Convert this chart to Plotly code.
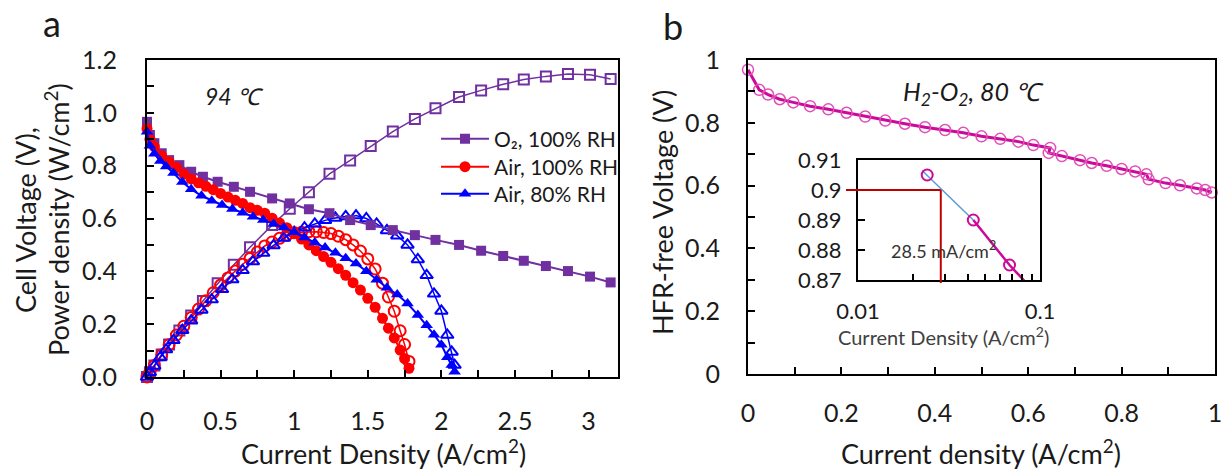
import math
import plotly.graph_objects as go

# ---------------- Panel a data (94 C) ----------------
o2_j = [0, 0.02, 0.05, 0.10, 0.15, 0.22, 0.30, 0.38, 0.48, 0.59, 0.70, 0.85, 0.97, 1.10,
        1.24, 1.38, 1.52, 1.67, 1.82, 1.96, 2.12, 2.27, 2.42, 2.56, 2.71, 2.86, 3.01, 3.15]
o2_v = [0.966, 0.916, 0.885, 0.847, 0.821, 0.802, 0.777, 0.758, 0.739, 0.720, 0.701, 0.676,
        0.657, 0.635, 0.620, 0.594, 0.575, 0.556, 0.537, 0.519, 0.500, 0.478, 0.458, 0.440,
        0.420, 0.401, 0.380, 0.358]
o2_p = [0.0, 0.018, 0.044, 0.085, 0.123, 0.176, 0.233, 0.288, 0.355, 0.425, 0.491, 0.575,
        0.637, 0.699, 0.769, 0.820, 0.874, 0.929, 0.977, 1.017, 1.060, 1.085, 1.108, 1.126,
        1.138, 1.147, 1.144, 1.128]

air100_j = [0, 0.02, 0.05, 0.10, 0.15, 0.20, 0.25, 0.30, 0.35, 0.40, 0.45, 0.50, 0.55, 0.60,
            0.65, 0.70, 0.75, 0.80, 0.85, 0.90, 0.95, 1.00, 1.05, 1.10, 1.15, 1.20, 1.25, 1.30,
            1.35, 1.40, 1.45, 1.50, 1.55, 1.60, 1.64, 1.68, 1.72, 1.75, 1.78]
air100_v = [0.940, 0.900, 0.872, 0.838, 0.815, 0.793, 0.768, 0.750, 0.735, 0.722, 0.709, 0.695,
            0.681, 0.669, 0.657, 0.641, 0.631, 0.620, 0.601, 0.583, 0.565, 0.546, 0.522, 0.500,
            0.478, 0.456, 0.434, 0.410, 0.385, 0.357, 0.329, 0.298, 0.264, 0.222, 0.185, 0.148,
            0.102, 0.070, 0.033]
air100_p = [0.0, 0.018, 0.044, 0.084, 0.122, 0.159, 0.192, 0.225, 0.257, 0.289, 0.319, 0.348,
            0.375, 0.401, 0.427, 0.449, 0.473, 0.496, 0.511, 0.525, 0.537, 0.546, 0.548, 0.550,
            0.550, 0.547, 0.543, 0.533, 0.520, 0.500, 0.477, 0.447, 0.409, 0.355, 0.303, 0.249,
            0.175, 0.123, 0.059]

air80_j = [0, 0.02, 0.05, 0.09, 0.13, 0.18, 0.24, 0.30, 0.37, 0.44, 0.51, 0.58, 0.65, 0.72,
           0.79, 0.86, 0.93, 1.00, 1.07, 1.14, 1.21, 1.28, 1.35, 1.42, 1.49, 1.56, 1.63, 1.70,
           1.77, 1.84, 1.90, 1.95, 2.00, 2.04, 2.07, 2.09]
air80_v = [0.928, 0.875, 0.845, 0.818, 0.797, 0.772, 0.738, 0.711, 0.686, 0.667, 0.651, 0.636,
           0.622, 0.607, 0.594, 0.579, 0.566, 0.548, 0.528, 0.509, 0.490, 0.470, 0.450, 0.430,
           0.400, 0.368, 0.338, 0.312, 0.278, 0.235, 0.196, 0.160, 0.122, 0.075, 0.045, 0.020]
air80_p = [0.0, 0.018, 0.042, 0.074, 0.104, 0.139, 0.177, 0.213, 0.254, 0.293, 0.332, 0.369,
           0.404, 0.437, 0.469, 0.498, 0.526, 0.548, 0.565, 0.580, 0.593, 0.602, 0.608, 0.611,
           0.600, 0.580, 0.555, 0.535, 0.500, 0.445, 0.385, 0.315, 0.250, 0.159, 0.095, 0.045]

series_names = ["O\u2082, 100% RH", "Air, 100% RH", "Air, 80% RH"]

# ---------------- Panel b data (H2-O2, 80 C) ----------------
hfr_j = [0, 0.024, 0.043, 0.068, 0.097, 0.133, 0.172, 0.211, 0.251, 0.294, 0.336, 0.379, 0.422,
         0.461, 0.500, 0.540, 0.579, 0.611, 0.647, 0.644, 0.672, 0.711, 0.736, 0.768, 0.800,
         0.829, 0.853, 0.858, 0.894, 0.925, 0.961, 0.979, 0.993]
hfr_v = [0.969, 0.905, 0.890, 0.875, 0.865, 0.853, 0.843, 0.832, 0.820, 0.807, 0.797, 0.786,
         0.777, 0.768, 0.757, 0.749, 0.740, 0.729, 0.720, 0.704, 0.694, 0.681, 0.672, 0.663,
         0.653, 0.645, 0.636, 0.620, 0.608, 0.601, 0.591, 0.586, 0.578]

# inset: Tafel-type fit line and onset marker
fit_j = [0.0225, 0.043]
fit_v = [0.9065, 0.890]
onset_j = 0.0285
onset_v = 0.9

PURPLE = "#7030A0"
RED = "#FF0000"
BLUE = "#0000FF"
MAG_LINE = "#CC0A99"
MAG_MARK = "#E050B8"
FONT = "Lato, 'Open Sans', sans-serif"
TXT = "#1a1a1a"

W, H = 1223, 470

fig = go.Figure()

specs = [
    (o2_j, o2_v, o2_p, PURPLE, "square", "square-open", 10),
    (air100_j, air100_v, air100_p, RED, "circle", "circle-open", 11),
    (air80_j, air80_v, air80_p, BLUE, "triangle-up", "triangle-up-open", 11),
]
legend_ids = ["legend", "legend2", "legend3"]
legend_rows = [139, 167, 194]

# power (open markers)
for (j, v, p, c, sf, so, ms) in specs:
    fig.add_trace(go.Scatter(x=j, y=p, mode="lines+markers", showlegend=False,
                             line=dict(color=c, width=1.5),
                             marker=dict(symbol=so, size=ms, color=c, line=dict(color=c, width=2)),
                             xaxis="x", yaxis="y", cliponaxis=False))
# voltage (filled markers)
for (j, v, p, c, sf, so, ms), nm, lg in zip(specs, series_names, legend_ids):
    fig.add_trace(go.Scatter(x=j, y=v, mode="lines+markers", name=nm, legend=lg,
                             line=dict(color=c, width=2),
                             marker=dict(symbol=sf, size=ms, color=c),
                             xaxis="x", yaxis="y", cliponaxis=False))

# panel b main curve
fig.add_trace(go.Scatter(x=hfr_j, y=hfr_v, mode="lines+markers", showlegend=False,
                         line=dict(color=MAG_LINE, width=3),
                         marker=dict(symbol="circle-open", size=11, color=MAG_MARK,
                                     line=dict(color=MAG_MARK, width=1.5)),
                         xaxis="x2", yaxis="y2", cliponaxis=False))

# inset
fig.add_trace(go.Scatter(x=hfr_j[2:], y=hfr_v[2:], mode="lines", showlegend=False,
                         line=dict(color=MAG_LINE, width=2.5), xaxis="x3", yaxis="y3"))
fig.add_trace(go.Scatter(x=fit_j, y=fit_v, mode="lines", showlegend=False,
                         line=dict(color="#5B9BD5", width=1.5), xaxis="x3", yaxis="y3"))
fig.add_trace(go.Scatter(x=hfr_j[1:4], y=hfr_v[1:4], mode="markers", showlegend=False,
                         marker=dict(symbol="circle-open", size=11, color=MAG_LINE,
                                     line=dict(color=MAG_LINE, width=2)),
                         xaxis="x3", yaxis="y3", cliponaxis=False))


def dx(a, b):
    return [a / W, b / W]


def dy(top, bottom):
    return [(H - bottom) / H, (H - top) / H]


def axis_common(size=25):
    return dict(showline=True, mirror=True, linecolor="black", linewidth=2,
                ticks="inside", ticklen=7, tickwidth=2, tickcolor="black",
                showgrid=False, zeroline=False, automargin=False,
                tickfont=dict(family=FONT, size=size, color=TXT))


MINOR = dict(ticks="inside", ticklen=7, tickwidth=2, tickcolor="black")

fig.update_layout(
    xaxis=dict(domain=dx(147, 618), range=[0, 3.2], anchor="y", tickvals=[0, 0.5, 1, 1.5, 2, 2.5, 3],
               ticktext=["0", "0.5", "1", "1.5", "2", "2.5", "3"],
               minor=dict(tickvals=[0.25, 0.75, 1.25, 1.75, 2.25, 2.75], **MINOR),
               ticklabelstandoff=21, **axis_common()),
    yaxis=dict(domain=dy(60, 377), range=[0, 1.2], anchor="x", dtick=0.2, tickformat=".1f",
               minor=dict(dtick=0.1, **MINOR),
               ticklabelstandoff=23, **axis_common()),
    xaxis2=dict(domain=dx(748, 1215), range=[0, 1], anchor="y2", dtick=0.2,
                minor=dict(dtick=0.1, **MINOR),
                ticklabelstandoff=16, **axis_common()),
    yaxis2=dict(domain=dy(60, 374), range=[0, 1], anchor="x2", dtick=0.2,
                minor=dict(dtick=0.1, **MINOR),
                ticklabelstandoff=21, **axis_common()),
    xaxis3=dict(domain=dx(858, 1040), type="log", range=[-2, -1], anchor="y3",
                tickvals=[0.01, 0.1], ticktext=["0.01", "0.1"],
                minor=dict(tickvals=[0.02, 0.03, 0.04, 0.05, 0.06, 0.07, 0.08, 0.09],
                           ticks="inside", ticklen=6, tickwidth=2, tickcolor="black"),
                ticklabelstandoff=11, **axis_common(22)),
    yaxis3=dict(domain=dy(160, 280), range=[0.87, 0.91], anchor="x3",
                tickvals=[0.87, 0.88, 0.89, 0.9, 0.91], ticktext=["0.87", "0.88", "0.89", "0.9", "0.91"],
                ticklabelstandoff=10, **axis_common(22)),
)

leg_common = dict(xanchor="left", yanchor="middle", bgcolor="rgba(0,0,0,0)",
                  font=dict(family=FONT, size=21, color=TXT), itemwidth=48)
legends = {}
for lg, row in zip(legend_ids, legend_rows):
    legends[lg] = dict(x=436 / W, y=(H - row) / H, **leg_common)

fig.update_layout(
    width=W, height=H, margin=dict(l=0, r=0, t=0, b=0),
    paper_bgcolor="white", plot_bgcolor="rgba(0,0,0,0)",
    font=dict(family=FONT, color=TXT),
    **legends,
)

# red onset lines in the inset
xf = math.log10(onset_j) - (-2)
yf = (onset_v - 0.87) / 0.04
fig.add_shape(type="line", xref="x3 domain", yref="y3 domain", x0=-12 / 182, x1=xf, y0=yf, y1=yf,
              line=dict(color="#C00000", width=2))
fig.add_shape(type="line", xref="x3 domain", yref="y3 domain", x0=xf, x1=xf, y0=yf, y1=-3 / 120,
              line=dict(color="#C00000", width=2))

ann = [
    dict(text="a", x=52 / W, y=(H - 23) / H, font=dict(size=36)),
    dict(text="b", x=673 / W, y=(H - 26) / H, font=dict(size=36)),
    dict(text="<i>94 \u2103</i>", x=234 / W, y=(H - 96) / H, font=dict(size=23)),
    dict(text="<i>H<sub>2</sub>-O<sub>2</sub>, 80 \u2103</i>", x=973 / W, y=(H - 93) / H, font=dict(size=25)),
    dict(text="Current Density (A/cm<sup>2</sup>)", x=383 / W, y=(H - 452) / H, font=dict(size=27)),
    dict(text="Current density (A/cm<sup>2</sup>)", x=981 / W, y=(H - 452) / H, font=dict(size=27)),
    dict(text="Cell Voltage (V),", x=25 / W, y=(H - 220) / H, textangle=-90, font=dict(size=27)),
    dict(text="Power density (W/cm<sup>2</sup>)", x=57 / W, y=(H - 220) / H, textangle=-90,
         font=dict(size=27)),
    dict(text="HFR-free Voltage (V)", x=662 / W, y=(H - 213) / H, textangle=-90, font=dict(size=27)),
    dict(text="Current Density (A/cm<sup>2</sup>)", x=943 / W, y=(H - 336) / H,
         font=dict(size=20, color="#404040")),
    dict(text="28.5 mA/cm<sup>2</sup>", x=943 / W, y=(H - 250) / H, font=dict(size=18, color="#333333")),
]
for a in ann:
    f = dict(family=FONT, color=TXT)
    f.update(a.pop("font"))
    fig.add_annotation(xref="paper", yref="paper", xanchor="center", yanchor="middle",
                       showarrow=False, font=f, **a)

fig.write_html("out.html", config={"displayModeBar": False},
               post_script="document.body.style.margin='0';document.body.style.overflow='hidden';")
